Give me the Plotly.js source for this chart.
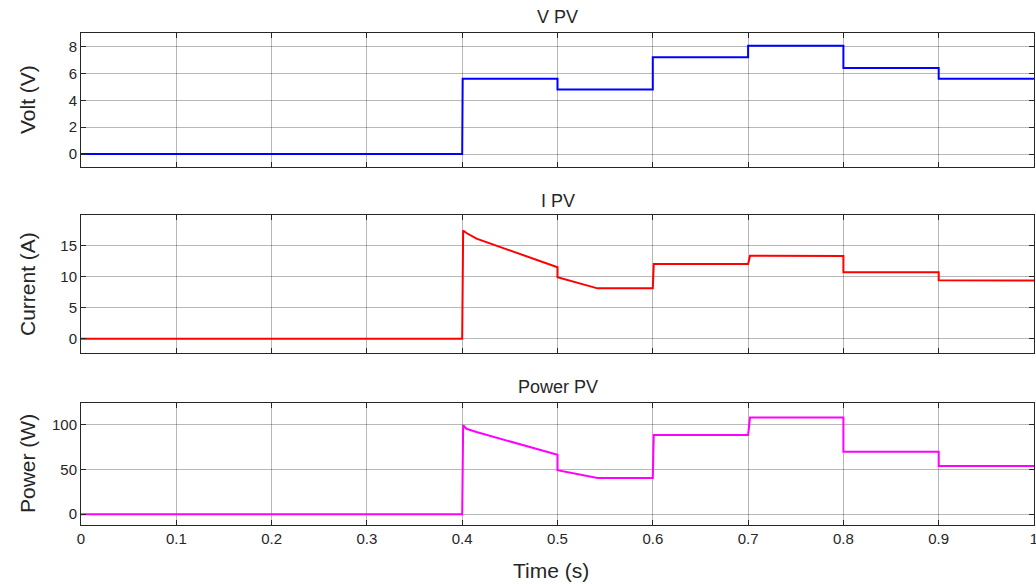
<!DOCTYPE html>
<html>
<head>
<meta charset="utf-8">
<script src="https://cdn.plot.ly/plotly-3.0.1.min.js"></script>
<style>html,body{margin:0;padding:0;background:#fff;}#chart{width:1036px;height:584px;}</style>
</head>
<body>
<div id="chart"></div>
<script>
// ---- data ----
const tV = [0, 0.4, 0.4005, 0.5, 0.5, 0.6, 0.6, 0.7, 0.7, 0.8, 0.8, 0.9, 0.9, 1.0];
const vPV = [0, 0, 5.6, 5.6, 4.8, 4.8, 7.2, 7.2, 8.05, 8.05, 6.4, 6.4, 5.6, 5.6];

const tI = [0, 0.4, 0.401, 0.4045, 0.415, 0.5, 0.5, 0.542, 0.6, 0.601, 0.7, 0.702, 0.8, 0.8, 0.9, 0.9, 1.0];
const iPV = [0, 0, 17.4, 17.0, 16.1, 11.5, 9.9, 8.1, 8.1, 12.0, 12.0, 13.35, 13.3, 10.7, 10.7, 9.4, 9.35];
const pPV = [0, 0, 99, 95, 91.5, 66, 49, 40.4, 40.4, 88, 88, 107.5, 107.5, 69.5, 69.5, 53.5, 53.5];

const xTicks = [0, 0.1, 0.2, 0.3, 0.4, 0.5, 0.6, 0.7, 0.8, 0.9, 1];
const xTickText = ['0', '0.1', '0.2', '0.3', '0.4', '0.5', '0.6', '0.7', '0.8', '0.9', '1'];
const vTicks = [0, 2, 4, 6, 8];
const iTicks = [0, 5, 10, 15];
const pTicks = [0, 50, 100];
const panelTitles = ['V PV', 'I PV', 'Power PV'];
const yTitles = ['Volt (V)', 'Current (A)', 'Power (W)'];
const xTitle = 'Time (s)';

// ---- layout geometry ----
const W = 1036, H = 584;
const mL = 81, mR = 2, mT = 33, mB = 59;
const pw = W - mL - mR, ph = H - mT - mB;
const py = y => (H - mB - y) / ph;   // pixel y -> paper y
const px = x => (x - mL) / pw;       // pixel x -> paper x

const domTop = [py(166.7), py(33)];
const domMid = [py(353), py(215)];
const domBot = [py(525), py(403)];

const tickFont = {family: 'Liberation Sans, Arial, sans-serif', size: 15, color: '#262626'};
const baseX = {
  range: [0, 1], tickvals: xTicks, ticktext: xTickText,
  ticks: 'inside', ticklen: 5, tickcolor: '#262626', tickwidth: 1,
  showline: true, linecolor: '#262626', linewidth: 1, mirror: 'ticks',
  showgrid: true, gridcolor: 'rgba(0,0,0,0.28)', gridwidth: 1,
  zeroline: false, tickfont: tickFont, fixedrange: true, ticklabeloverflow: 'allow'
};
const baseY = {
  ticks: 'inside', ticklen: 5, tickcolor: '#262626', tickwidth: 1,
  showline: true, linecolor: '#262626', linewidth: 1, mirror: 'ticks',
  showgrid: true, gridcolor: 'rgba(0,0,0,0.28)', gridwidth: 1,
  zeroline: false, tickfont: tickFont, fixedrange: true
};

const traces = [
  {x: tV, y: vPV, xaxis: 'x3', yaxis: 'y3', type: 'scatter', mode: 'lines',
   line: {color: '#0000ff', width: 2}},
  {x: tI, y: iPV, xaxis: 'x2', yaxis: 'y2', type: 'scatter', mode: 'lines',
   line: {color: '#ff0000', width: 2}},
  {x: tI, y: pPV, xaxis: 'x', yaxis: 'y', type: 'scatter', mode: 'lines',
   line: {color: '#ff00ff', width: 2}}
];

const titleFont = {family: 'Liberation Sans, Arial, sans-serif', size: 18, color: '#262626'};
const labFont = {family: 'Liberation Sans, Arial, sans-serif', size: 21, color: '#262626'};

const annotations = [
  {text: panelTitles[0], x: 0.5, y: py(16.5), xref: 'paper', yref: 'paper', xanchor: 'center', yanchor: 'middle', showarrow: false, font: titleFont},
  {text: panelTitles[1], x: 0.5, y: py(201), xref: 'paper', yref: 'paper', xanchor: 'center', yanchor: 'middle', showarrow: false, font: titleFont},
  {text: panelTitles[2], x: 0.5, y: py(387), xref: 'paper', yref: 'paper', xanchor: 'center', yanchor: 'middle', showarrow: false, font: titleFont},
  {text: yTitles[0], x: px(27), y: py(100), xref: 'paper', yref: 'paper', xanchor: 'center', yanchor: 'middle', textangle: -90, showarrow: false, font: labFont},
  {text: yTitles[1], x: px(27), y: py(284), xref: 'paper', yref: 'paper', xanchor: 'center', yanchor: 'middle', textangle: -90, showarrow: false, font: labFont},
  {text: yTitles[2], x: px(27), y: py(464), xref: 'paper', yref: 'paper', xanchor: 'center', yanchor: 'middle', textangle: -90, showarrow: false, font: labFont},
  {text: xTitle, x: px(551), y: py(570), xref: 'paper', yref: 'paper', xanchor: 'center', yanchor: 'middle', showarrow: false, font: labFont}
];

const layout = {
  width: W, height: H,
  margin: {l: mL, r: mR, t: mT, b: mB, pad: 0},
  paper_bgcolor: '#ffffff', plot_bgcolor: '#ffffff',
  showlegend: false,
  xaxis: Object.assign({}, baseX, {anchor: 'y', domain: [0, 1], showticklabels: true}),
  xaxis2: Object.assign({}, baseX, {anchor: 'y2', domain: [0, 1], showticklabels: false}),
  xaxis3: Object.assign({}, baseX, {anchor: 'y3', domain: [0, 1], showticklabels: false}),
  yaxis: Object.assign({}, baseY, {anchor: 'x', domain: domBot, range: [-12, 123.7], tickvals: pTicks}),
  yaxis2: Object.assign({}, baseY, {anchor: 'x2', domain: domMid, range: [-2.3, 19.9], tickvals: iTicks}),
  yaxis3: Object.assign({}, baseY, {anchor: 'x3', domain: domTop, range: [-0.94, 9.0], tickvals: vTicks}),
  annotations: annotations
};

Plotly.newPlot('chart', traces, layout, {displayModeBar: false, staticPlot: true});
</script>
</body>
</html>
